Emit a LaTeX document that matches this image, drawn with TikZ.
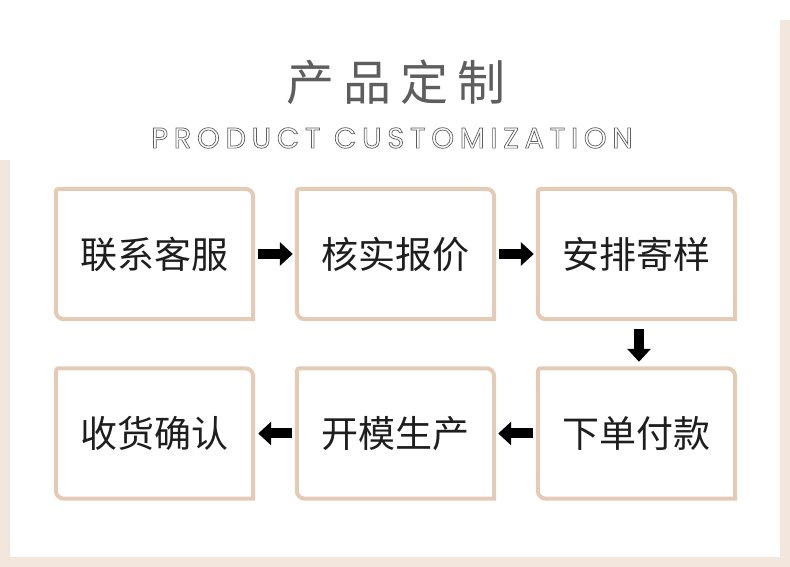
\documentclass[tikz,border=0pt]{standalone}
\usepackage{fontspec}
\newfontfamily\cjk{Noto Sans CJK SC}
\newfontfamily\cjktitle[LetterSpace=19]{Noto Sans CJK SC}
\newfontfamily\subfont[LetterSpace=19.5]{Poppins}
\usetikzlibrary{arrows.meta}
\definecolor{beige}{HTML}{F3E6DC}
\definecolor{boxc}{HTML}{E3CBB6}
\definecolor{titlec}{HTML}{5E5E5E}
\definecolor{txt}{HTML}{1E1E1E}
\begin{document}
\begin{tikzpicture}[x=1pt,y=1pt,
  stepbox/.style={minimum width=197pt,minimum height=130pt,inner sep=0pt,
    font=\cjk\fontsize{37}{37}\selectfont,text=txt},
  boxline/.style={draw=boxc,line width=4pt},
  flow/.style={line width=10pt,-{Triangle[width=23pt,length=13pt]}}]
\useasboundingbox (0,0) rectangle (790,567);
\fill[white] (0,0) rectangle (790,567);
\fill[beige] (0,0) rectangle (10,407);
\fill[beige] (780,0) rectangle (790,547);
\fill[beige] (0,0) rectangle (790,10);
\node[font=\cjktitle\fontsize{48}{48}\selectfont,text=titlec] (title) at (396,485) {产品定制};
\node[font=\subfont\fontsize{29}{29}\selectfont,text=titlec] (sub) at (392,429)
  {\special{pdf:code q 1 Tr 0.7 w}PRODUCT CUSTOMIZATION\special{pdf:code Q}};
\node[stepbox] (a) at (154.5,313) {联系客服};
\node[stepbox] (b) at (395.5,313) {核实报价};
\node[stepbox] (c) at (636.5,313) {安排寄样};
\node[stepbox] (d) at (636.5,133.5) {下单付款};
\node[stepbox] (e) at (395.5,133.5) {开模生产};
\node[stepbox] (f) at (154.5,133.5) {收货确认};
\foreach \n in {a,b,c,d,e,f}{
  \draw[boxline] (\n.south east) -- ([xshift=8pt]\n.south west)
    arc[start angle=270,end angle=180,radius=8pt] -- ([yshift=-3pt]\n.north west)
    arc[start angle=180,end angle=90,radius=3pt] -- ([xshift=-8pt]\n.north east)
    arc[start angle=90,end angle=0,radius=8pt] -- cycle;
}
\draw[flow] ([xshift=5pt]a.east) -- ([xshift=-4pt]b.west);
\draw[flow] ([xshift=5pt]b.east) -- ([xshift=-4pt]c.west);
\draw[flow] ([xshift=2.5pt,yshift=-10pt]c.south) -- ([xshift=2.5pt,yshift=6.5pt]d.north);
\draw[flow] ([xshift=-5pt]d.west) -- ([xshift=4pt]e.east);
\draw[flow] ([xshift=-5pt]e.west) -- ([xshift=5pt]f.east);
\end{tikzpicture}
\end{document}
